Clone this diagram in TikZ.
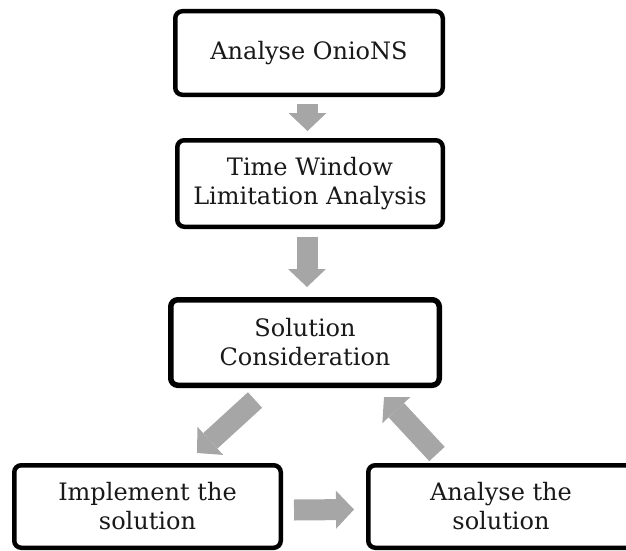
\documentclass[tikz,border=0pt]{standalone}
\usepackage{fontspec}
\setmainfont{DejaVu Serif}
\usetikzlibrary{arrows.meta,calc}
\definecolor{arrowgray}{RGB}{166,166,166}
\begin{document}
\begin{tikzpicture}[x=1pt,y=-1pt,
  stage/.style={draw=black, line width=4.5pt, rounded corners=7pt, fill=white,
    align=center, inner sep=0pt, text=black!90,
    font=\fontsize{24}{29}\selectfont},
  flow/.style={draw=arrowgray, line width=21pt,
    -{Triangle[width=38pt,length=18pt,line width=0pt]}}]
\useasboundingbox (0,0) rectangle (626,551);
\clip (0,0) rectangle (626,551);

% process stages
\node[stage, minimum width=267.5pt, minimum height=83.5pt] (onions) at (309,53) {Analyse OnioNS};
\node[stage, minimum width=265.5pt, minimum height=86.5pt] (limit) at (310,183.5) {Time Window\\Limitation Analysis};
\node[stage, line width=5.5pt, minimum width=268.5pt, minimum height=85.5pt] (consider) at (305,342.5) {Solution\\Consideration};
\node[stage, minimum width=266.5pt, minimum height=82.5pt] (implement) at (147.5,506.5) {Implement the\\solution};
\node[stage, minimum width=265.5pt, minimum height=82.5pt] (analyse) at (501,506.5) {Analyse the\\solution};

% block arrows between the stages
\draw[flow] ($(onions.south)+(-1.5,7)$) -- ($(limit.north)+(-2.5,-7)$);
\draw[flow] ($(limit.south)+(-3,8)$) -- ($(consider.north)+(2,-10)$);
\draw[flow] ($(consider.south)+(-50,12)$) -- ($(implement.north)+(49.5,-10)$);
\draw[flow] ($(implement.east)+(11,3.5)$) -- ($(analyse.west)+(-12,3)$);
\draw[flow] ($(analyse.north)+(-64,-9)$) -- ($(consider.south)+(79,9)$);
\end{tikzpicture}
\end{document}
